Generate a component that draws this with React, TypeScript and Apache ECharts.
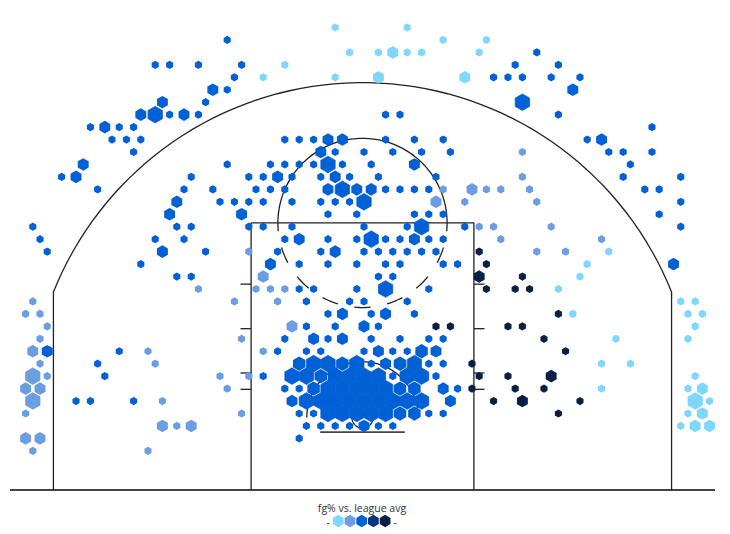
import React, { useEffect, useRef } from "react";
import * as echarts from "echarts";

// Hex-bin cells: [column, row, sizeClass]; sizeClass omitted = 1
type Cell = number[];

const aboveLeagueLight: Cell[] = [
  [-4,0],[6,0],[11,1],[17,1],[-2,2],[2,2],[4,2,3],[6,2],[8,2],[16,2],[-11,3],[-14,4],[-4,4],[2,4,3],[14,4,3],
  [34,18],[31,19],[30,20],[27,21],[44,22],[46,22],[29,23],[45,23],[47,23],[46,24],[35,25],[45,25],[33,27],[37,27],
  [46,28],[33,29],[45,29],[47,29,3],[46,30,5],[48,30],[45,31],[47,31,3],[44,32],[46,32,3],[48,32,3],
];

const aboveLeagueMid: Cell[] = [
  [22,10],[22,12],[11,13],[15,13,3],[17,13],[19,13],[23,13],[10,14,3],[14,14],[24,14],[16,16],[18,16],[26,16],
  [19,17],[33,17],[-16,18],[24,18],[28,18],[-14,20,3],[-23,21],[-15,21],[-13,21],[-11,21],[-46,22],[-18,22],[-12,22],
  [-47,23],[-45,23],[-44,24],[-10,24,3],[-45,25],[-17,25],[-46,26,3],[-30,26],[-14,26],[-45,27],[-29,27],
  [-46,28,5],[-44,28],[-20,28],[-16,28],[-47,29,3],[-45,29,3],[-19,29],[-46,30,5],[-28,30],[-47,31],[-17,31],
  [-28,32,3],[-26,32],[-24,32,3],[-47,33,3],[-45,33,3],[-46,34],[-30,34],
];

const aboveLeagueBlue: Cell[] = [
  [-19,1],[24,2],[-29,3],[-27,3],[-23,3],[-17,3],[21,3],[27,3],
  [-18,4],[18,4],[20,4],[22,4],[26,4],[30,4],
  [-21,5,3],[-19,5],[29,5,3],[-28,6,3],[-22,6],[22,6,5],
  [-31,7,3],[-29,7,5],[-27,7],[-25,7,3],[-23,7],[3,7],[5,7],[27,7],
  [-38,8],[-36,8,3],[-34,8],[-32,8],[40,8],
  [-35,9],[-33,9],[-31,9],[-11,9],[-9,9],[-7,9],[-5,9,3],[-3,9,3],[3,9],[7,9],[11,9],[31,9],[33,9,3],
  [-32,10],[-6,10,3],[-4,10],[0,10],[4,10],[8,10],[12,10],[34,10],[36,10],[40,10],
  [-39,11,3],[-19,11],[-13,11],[-11,11],[-9,11],[-7,11],[-5,11,5],[-3,11],[1,11],[7,11,3],[37,11],
  [-42,12],[-40,12,3],[-24,12],[-16,12],[-14,12],[-12,12,3],[-10,12],[-6,12],[-4,12,3],[-2,12],[2,12],[10,12],[36,12],[44,12],
  [-37,13],[-25,13],[-21,13],[-15,13],[-13,13],[-11,13],[-5,13,3],[-3,13,5],[-1,13,3],[1,13,3],[3,13],[5,13],[7,13],[9,13],[39,13],[41,13],
  [-26,14,3],[-20,14],[-18,14],[-16,14],[-14,14],[-10,14],[-6,14],[-4,14],[-2,14],[0,14,5],[44,14],
  [-27,15,3],[-17,15,3],[-5,15],[-1,15],[7,15],[9,15],[11,15],[41,15],
  [-46,16],[-26,16],[-24,16],[-16,16],[-14,16],[-10,16],[0,16],[6,16],[8,16,5],[14,16],[44,16],
  [-45,17],[-29,17],[-25,17],[-11,17],[-9,17,3],[-5,17],[-1,17],[1,17,5],[3,17],[5,17],[7,17,3],[9,17],[11,17],
  [-44,18],[-28,18,3],[-22,18],[-12,18],[-6,18],[-4,18,3],[0,18],[2,18],[4,18],[6,18],[8,18],[10,18],
  [-31,19],[-13,19,3],[-9,19],[-5,19],[-1,19],[3,19],[5,19],[11,19],[13,19],[43,19,3],
  [-26,20],[-24,20],[2,20],[4,20],
  [-9,21],[-7,21],[-1,21],[3,21,5],[9,21],
  [-8,22],[-2,22],[0,22],[6,22],
  [-5,23],[-3,23,3],[1,23],[3,23,3],[7,23],
  [-8,24],[-4,24],[0,24,3],[2,24],
  [-11,25],[-7,25,3],[-5,25],[-3,25,3],[1,25],[5,25],[9,25],[11,25],
  [-44,26,3],[-34,26],[-12,26],[-8,26],[-6,26],[0,26],[2,26,3],[4,26],[6,26],[8,26,4],[10,26,3],
  [-37,27],[-9,27,4],[-7,27,5],[-5,27,5],[-3,27,4],[-1,27,5],[1,27],[3,27,3],[5,27,4],[7,27,5],[9,27],[11,27],
  [-36,28],[-14,28],[-10,28,5],[-8,28,5],[-6,28,4],[-4,28,5],[-2,28,5],[0,28,5],[2,28,5],[4,28],[6,28,5],[8,28,5],[10,28],
  [-11,29],[-9,29],[-7,29,4],[-5,29,5],[-3,29,5],[-1,29,5],[1,29,5],[3,29,5],[5,29,4],[7,29,4],[11,29,3],[13,29],
  [-40,30],[-38,30],[-32,30],[-10,30,3],[-8,30,5],[-6,30,5],[-4,30,5],[-2,30,5],[0,30,5],[2,30,5],[4,30,5],[6,30,5],[8,30,5],[12,30,3],
  [-9,31],[-7,31],[-5,31,5],[-3,31,5],[-1,31,5],[1,31,5],[3,31,5],[5,31,4],[7,31,4],[9,31],[11,31],
  [-8,32],[-6,32],[-4,32],[-2,32],[0,32,3],[2,32],[4,32],[-9,33],
];

const aboveLeagueDark: Cell[] = [
  [16,18],[17,19],[16,20,3],[22,20],[17,21],[21,21],[23,21],[27,23],[10,24],[12,24],[20,24],[22,24],[25,25],[28,26],[15,27],
  [16,28],[20,28],[26,28,3],[15,29],[21,29],[25,29],[18,30],[22,30,3],[30,30],[27,31],
];

const legendTitle = "fg% vs. league avg";
const legendLow = "-";
const legendHigh = "-";
const palette = ["#7fd6ff", "#6a9de2", "#0060d6", "#06357a", "#0a1f45"];

// court outline, in tenths of a foot
const baselineHalf = 250;
const cornerX = 219.2;
const hoopY = 51.4;
const arcCenterY = 52.9;
const arcRadius = 236;
const paintHalf = 79;
const paintTop = 189.4;
const ftRadius = 60;
const restrictedRadius = 39.5;
const rimRadius = 7.5;
const backboardY = 41;
const backboardHalf = 30;
const laneTicks = [146, 114.4, 83, 71.4];
const laneTickEnd = 86.5;

const HEX = "path://M0,-10L8.66,-5L8.66,5L0,10L-8.66,5L-8.66,-5Z";
const RADII = [0, 4.1, 5.3, 6.3, 7.2, 8.31];

const colX = (c: number) => 1.06 + c * 5.106;
const rowY = (k: number) => 328 - k * 8.83;

const arcPoints = (cx: number, cy: number, r: number, a0: number, a1: number) => {
  const n = Math.max(2, Math.ceil(Math.abs(a1 - a0) / 2));
  return Array.from({ length: n + 1 }, (_, i) => {
    const a = ((a0 + ((a1 - a0) * i) / n) * Math.PI) / 180;
    return [cx + r * Math.cos(a), cy + r * Math.sin(a)];
  });
};

const cornerAngle = (Math.acos(cornerX / arcRadius) * 180) / Math.PI;
const ftDashes = [22.5, 45, 67.5, 90, 112.5, 135, 157.5].map((m) =>
  arcPoints(0, paintTop, ftRadius, -m - 5.6, -m + 5.6)
);

const thin = { color: "#222", width: 1.3 };
const thick = { color: "#444", width: 1.8 };

const courtPaths: { pts: number[][]; style: any }[] = [
  { pts: [[-baselineHalf, 0], [baselineHalf, 0]], style: thick },
  { pts: [[-backboardHalf, backboardY], [backboardHalf, backboardY]], style: thick },
  {
    pts: [
      [-cornerX, 0],
      ...arcPoints(0, arcCenterY, arcRadius, 180 - cornerAngle, cornerAngle),
      [cornerX, 0],
    ],
    style: thin,
  },
  {
    pts: [[-paintHalf, 0], [-paintHalf, paintTop], [paintHalf, paintTop], [paintHalf, 0]],
    style: thin,
  },
  { pts: arcPoints(0, paintTop, ftRadius, -5.6, 185.6), style: thin },
  ...ftDashes.map((pts) => ({ pts, style: thin })),
  { pts: arcPoints(0, hoopY, restrictedRadius, 180, 0), style: thin },
  { pts: arcPoints(0, hoopY, rimRadius, 0, 360), style: thin },
  ...laneTicks.flatMap((y) => [
    { pts: [[-laneTickEnd, y], [-paintHalf, y]], style: thin },
    { pts: [[paintHalf, y], [laneTickEnd, y]], style: thin },
  ]),
];

const hexSeries = (name: string, cells: Cell[], color: string) => ({
  type: "scatter",
  name,
  z: 3,
  clip: false,
  silent: true,
  symbol: HEX,
  symbolSize: (v: number[]) => {
    const r = RADII[v[2]];
    return [r * 1.732, r * 2];
  },
  itemStyle: { color, opacity: 1 },
  data: cells.map(([c, k, s]) => ({
    value: [colX(c), rowY(k), s ?? 1],
    itemStyle: s === 5 ? { borderColor: color, borderWidth: 0.7 } : undefined,
  })),
});

const hexPoints = (cx: number, cy: number, r: number) =>
  [90, 30, -30, -90, -150, 150].map((a) => [
    cx + r * Math.cos((a * Math.PI) / 180),
    cy + r * Math.sin((a * Math.PI) / 180),
  ]);

export default function App() {
  const ref = useRef<HTMLDivElement>(null);
  useEffect(() => {
    const chart = echarts.init(ref.current!, undefined, { renderer: "svg" });
    const font = '"Open Sans", sans-serif';
    chart.setOption({
      animation: false,
      backgroundColor: "#fff",
      grid: { left: 10, width: 705, top: 10.6, height: 479.4, show: false },
      xAxis: { type: "value", min: -250, max: 250, show: false },
      yAxis: { type: "value", min: 0, max: 340, show: false },
      series: [
        ...courtPaths.map((p) => ({
          type: "line",
          z: 1,
          silent: true,
          clip: false,
          showSymbol: false,
          lineStyle: p.style,
          data: p.pts,
        })),
        hexSeries("light", aboveLeagueLight, palette[0]),
        hexSeries("mid", aboveLeagueMid, palette[1]),
        hexSeries("blue", aboveLeagueBlue, palette[2]),
        hexSeries("dark", aboveLeagueDark, palette[4]),
      ],
      graphic: [
        {
          type: "text",
          x: 362,
          y: 507.5,
          style: {
            text: legendTitle,
            font: `10.5px ${font}`,
            fill: "#333",
            align: "center",
            verticalAlign: "middle",
          },
        },
        {
          type: "text",
          x: 328,
          y: 522,
          style: { text: legendLow, font: `10px ${font}`, fill: "#333", align: "center", verticalAlign: "middle" },
        },
        {
          type: "text",
          x: 395,
          y: 522,
          style: { text: legendHigh, font: `10px ${font}`, fill: "#333", align: "center", verticalAlign: "middle" },
        },
        ...palette.map((fill, i) => ({
          type: "polygon",
          shape: { points: hexPoints(338.3 + i * 11.7, 521, 6.2) },
          style: { fill },
        })),
      ],
    });
    return () => chart.dispose();
  }, []);
  return <div ref={ref} style={{ position: "absolute", left: 0, top: 0, width: 730, height: 534 }} />;
}
